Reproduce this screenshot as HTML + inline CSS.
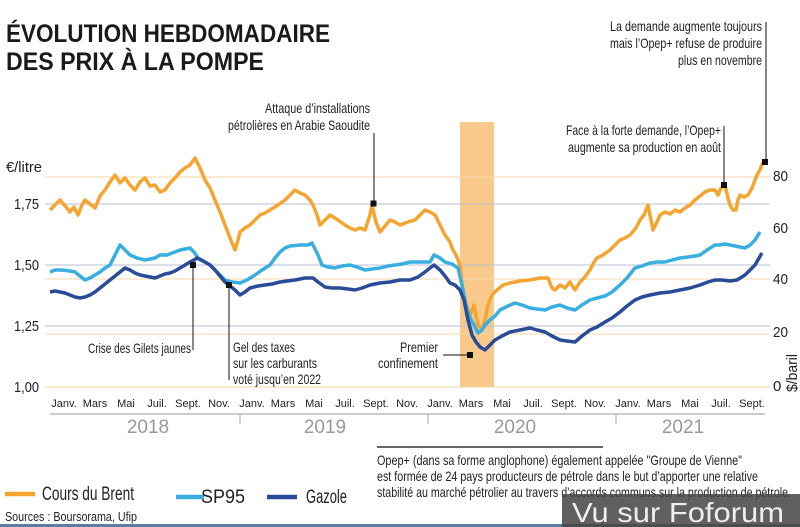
<!DOCTYPE html>
<html><head><meta charset="utf-8"><style>
body{margin:0;background:#fff;}
svg{display:block;font-family:"Liberation Sans",sans-serif;}
.t{font-family:"Liberation Sans",sans-serif;fill:#222;}
</style></head><body>
<svg width="800" height="527" viewBox="0 0 800 527">
<rect width="800" height="527" fill="#fff"/>
<text x="6" y="42" font-size="25" font-weight="bold" fill="#1a1a1a" textLength="324" lengthAdjust="spacingAndGlyphs">ÉVOLUTION HEBDOMADAIRE</text>
<text x="6" y="70" font-size="25" font-weight="bold" fill="#1a1a1a" textLength="258" lengthAdjust="spacingAndGlyphs">DES PRIX À LA POMPE</text>
<rect x="460" y="122" width="34" height="265" fill="#f9c98c"/>
<g stroke-width="1">
<line x1="45" x2="770" y1="177" y2="177" stroke="#f6d9a8"/>
<line x1="45" x2="770" y1="279" y2="279" stroke="#f6d9a8"/>
<line x1="45" x2="770" y1="334" y2="334" stroke="#f6d9a8"/>
<line x1="45" x2="770" y1="204" y2="204" stroke="#b8bfd0"/>
<line x1="45" x2="770" y1="265" y2="265" stroke="#b8bfd0"/>
<line x1="45" x2="770" y1="326" y2="326" stroke="#b8bfd0"/>
<line x1="45" x2="770" y1="387" y2="387" stroke="#f2d9a0"/>
</g>
<g class="t" font-size="15">
<text x="6" y="172" textLength="36" lengthAdjust="spacingAndGlyphs">€/litre</text>
<text x="14" y="209" textLength="25" lengthAdjust="spacingAndGlyphs">1,75</text>
<text x="14" y="270" textLength="25" lengthAdjust="spacingAndGlyphs">1,50</text>
<text x="14" y="331" textLength="25" lengthAdjust="spacingAndGlyphs">1,25</text>
<text x="14" y="392" textLength="25" lengthAdjust="spacingAndGlyphs">1,00</text>
<text x="773" y="181" textLength="15" lengthAdjust="spacingAndGlyphs">80</text>
<text x="773" y="233" textLength="15" lengthAdjust="spacingAndGlyphs">60</text>
<text x="773" y="284" textLength="15" lengthAdjust="spacingAndGlyphs">40</text>
<text x="773" y="337" textLength="15" lengthAdjust="spacingAndGlyphs">20</text>
<text x="773" y="391">0</text>
<text transform="translate(797,392) rotate(-90)" textLength="38" lengthAdjust="spacingAndGlyphs">$/baril</text>
</g>
<g fill="none" stroke-width="3.5" stroke-linejoin="round">
<polyline stroke="#f4a530" points="50,210 55,205 60,200 66,207 70,212 74,207 78,215 82,205 85,200 90,204 95,208 100,196 105,190 110,182 115,175 120,183 125,178 130,185 135,190 140,182 145,178 150,186 155,185 160,192 165,190 170,183 175,178 180,172 185,168 190,165 195,158 200,168 205,180 210,188 215,200 220,212 225,225 230,238 235,250 238,240 240,232 245,228 250,225 255,220 260,215 265,213 270,210 278,205 285,200 290,195 295,190 300,193 305,195 310,200 313,205 317,215 320,225 325,220 330,215 338,220 345,225 350,228 355,230 360,228 365,230 370,215 372,205 376,222 380,232 385,226 390,220 395,222 400,225 408,222 415,220 420,215 425,210 430,212 435,215 440,225 445,235 450,242 452,248 456,255 460,265 462,285 465,300 468,310 470,315 474,305 478,325 482,330 485,320 488,305 492,295 497,290 503,285 510,283 520,281 530,280 540,278 548,278 552,288 555,290 560,285 565,288 570,282 575,290 580,282 584,278 590,270 594,262 597,258 603,255 610,250 615,245 620,240 625,238 630,235 636,228 640,220 644,215 648,205 651,220 653,230 657,222 660,215 665,212 670,214 675,210 680,212 685,208 690,205 695,200 700,196 705,192 710,190 715,190 718,195 721,188 725,185 728,198 730,205 733,210 736,210 738,200 740,195 744,197 748,195 752,188 757,175 760,170 763,162"/>
<polyline stroke="#39aee0" points="50,272 55,270 62,270 70,271 75,272 80,276 85,280 90,278 95,275 100,272 105,268 110,265 115,255 120,245 125,250 130,255 137,258 145,260 150,259 155,258 160,255 167,255 175,252 180,250 185,249 190,248 194,252 198,258 205,262 210,265 215,270 220,275 225,280 232,282 240,283 247,280 255,275 262,270 270,265 275,258 280,252 285,248 290,246 300,245 308,245 312,243 318,255 322,265 328,267 335,268 342,266 350,265 357,267 365,270 372,269 380,268 388,266 395,265 402,264 410,262 420,262 430,262 434,255 440,258 445,262 452,264 458,268 462,285 466,305 470,318 474,325 478,333 482,330 485,325 490,320 495,316 500,310 508,306 515,303 522,305 530,308 537,309 545,310 552,307 560,305 567,308 575,310 582,305 590,300 597,298 605,296 612,292 620,285 627,278 635,268 642,266 650,263 657,262 665,262 672,260 680,258 688,257 695,256 700,255 707,250 715,245 720,245 725,244 730,245 735,246 740,247 745,248 750,245 755,240 760,232"/>
<polyline stroke="#2a4b97" points="50,292 55,291 60,292 65,293 70,295 75,297 80,298 85,297 90,295 95,292 100,288 105,284 110,280 115,276 120,272 125,268 130,270 135,273 140,275 145,276 150,277 155,278 160,276 165,274 170,273 175,271 180,268 185,265 190,262 194,260 197,258 203,261 210,265 215,270 220,276 225,282 230,286 235,290 240,295 245,292 250,288 258,286 265,285 272,284 280,282 287,281 295,280 300,279 305,278 310,278 313,278 318,282 325,287 332,288 340,288 348,289 355,290 362,288 370,285 380,283 390,282 400,280 410,280 418,277 425,272 430,268 434,265 440,270 445,276 450,283 455,285 460,290 464,300 468,320 472,335 476,342 480,347 485,350 490,345 495,340 502,336 510,332 520,330 530,328 537,330 545,332 552,336 560,340 567,341 575,342 582,336 590,330 597,327 605,322 612,318 620,312 627,306 635,300 642,297 650,295 660,293 670,292 680,290 690,288 700,285 708,282 715,280 722,280 730,281 737,280 745,275 750,270 755,265 762,253"/>
</g>
<g stroke="#111" stroke-width="1">
<line x1="374" y1="133" x2="374" y2="204"/>
<line x1="193" y1="265" x2="193" y2="350"/>
<line x1="229" y1="285" x2="229" y2="380"/>
<line x1="443" y1="355" x2="470" y2="355"/>
<line x1="724" y1="126" x2="724" y2="185"/>
<line x1="766" y1="22" x2="766" y2="162"/>
</g>
<g fill="#111">
<rect x="370.5" y="200.5" width="6" height="6"/>
<rect x="190" y="262" width="6" height="6"/>
<rect x="226" y="282" width="6" height="6"/>
<rect x="467" y="352" width="6" height="6"/>
<rect x="721" y="182" width="6" height="6"/>
<rect x="762" y="159" width="6" height="6"/>
</g>
<g class="t" font-size="14" text-anchor="end">
<text x="370" y="113" textLength="105" lengthAdjust="spacingAndGlyphs">Attaque d’installations</text>
<text x="370" y="130" textLength="142" lengthAdjust="spacingAndGlyphs">pétrolières en Arabie Saoudite</text>
<text x="191" y="353" textLength="103" lengthAdjust="spacingAndGlyphs">Crise des Gilets jaunes</text>
<text x="438" y="352" textLength="38" lengthAdjust="spacingAndGlyphs">Premier</text>
<text x="438" y="368" textLength="60" lengthAdjust="spacingAndGlyphs">confinement</text>
<text x="721" y="135" textLength="155" lengthAdjust="spacingAndGlyphs">Face à la forte demande, l’Opep+</text>
<text x="721" y="152" textLength="153" lengthAdjust="spacingAndGlyphs">augmente sa production en août</text>
<text x="762" y="31" textLength="152" lengthAdjust="spacingAndGlyphs">La demande augmente toujours</text>
<text x="762" y="48" textLength="152" lengthAdjust="spacingAndGlyphs">mais l’Opep+ refuse de produire</text>
<text x="762" y="65" textLength="84" lengthAdjust="spacingAndGlyphs">plus en novembre</text>
</g>
<g class="t" font-size="14">
<text x="233" y="352" textLength="62" lengthAdjust="spacingAndGlyphs">Gel des taxes</text>
<text x="233" y="368" textLength="84" lengthAdjust="spacingAndGlyphs">sur les carburants</text>
<text x="233" y="384" textLength="88" lengthAdjust="spacingAndGlyphs">voté jusqu’en 2022</text>
</g>
<g class="t" font-size="11" text-anchor="middle">
<text x="64" y="407">Janv.</text><text x="95" y="407">Mars</text><text x="126" y="407">Mai</text><text x="157" y="407">Juil.</text><text x="188" y="407">Sept.</text><text x="219" y="407">Nov.</text>
<text x="252" y="407">Janv.</text><text x="283" y="407">Mars</text><text x="314" y="407">Mai</text><text x="345" y="407">Juil.</text><text x="376" y="407">Sept.</text><text x="407" y="407">Nov.</text>
<text x="440" y="407">Janv.</text><text x="471" y="407">Mars</text><text x="502" y="407">Mai</text><text x="533" y="407">Juil.</text><text x="564" y="407">Sept.</text><text x="595" y="407">Nov.</text>
<text x="628" y="407">Janv.</text><text x="659" y="407">Mars</text><text x="690" y="407">Mai</text><text x="721" y="407">Juil.</text><text x="752" y="407">Sept.</text>
</g>
<line x1="50" x2="765" y1="414" y2="414" stroke="#ccc" stroke-width="2"/>
<g stroke="#aaa"><line x1="240" x2="240" y1="414" y2="424"/><line x1="428" x2="428" y1="414" y2="424"/><line x1="616" x2="616" y1="414" y2="424"/></g>
<g font-size="19" fill="#999" text-anchor="middle" font-family="Liberation Sans,sans-serif">
<text x="148" y="433">2018</text><text x="325" y="433">2019</text><text x="515" y="433">2020</text><text x="683" y="433">2021</text>
</g>
<line x1="377" x2="603" y1="447" y2="447" stroke="#666" stroke-width="2"/>
<g class="t" font-size="14">
<text x="377" y="465" textLength="365" lengthAdjust="spacingAndGlyphs">Opep+ (dans sa forme anglophone) également appelée "Groupe de Vienne"</text>
<text x="377" y="481" textLength="381" lengthAdjust="spacingAndGlyphs">est formée de 24 pays producteurs de pétrole dans le but d’apporter une relative</text>
<text x="377" y="497" textLength="414" lengthAdjust="spacingAndGlyphs">stabilité au marché pétrolier au travers d’accords communs sur la production de pétrole.</text>
</g>
<g stroke-width="4.5">
<line x1="5" x2="35" y1="494" y2="494" stroke="#f4a530"/>
<line x1="176" x2="204" y1="497" y2="497" stroke="#39aee0"/>
<line x1="267" x2="297" y1="497" y2="497" stroke="#2a4b97"/>
</g>
<g class="t" font-size="19">
<text x="42" y="500" textLength="92" lengthAdjust="spacingAndGlyphs">Cours du Brent</text>
<text x="201" y="503" textLength="44" lengthAdjust="spacingAndGlyphs">SP95</text>
<text x="306" y="503" textLength="41" lengthAdjust="spacingAndGlyphs">Gazole</text>
</g>
<text x="5" y="521" class="t" font-size="13" textLength="132" lengthAdjust="spacingAndGlyphs">Sources : Boursorama, Ufip</text>
<rect x="0" y="524" width="800" height="3" fill="#5a7f9a"/>
<rect x="562" y="494" width="238" height="33" fill="#444" opacity="0.85"/>
<text x="572" y="522" font-size="28" fill="#eee" font-family="Liberation Sans,sans-serif" textLength="212" lengthAdjust="spacingAndGlyphs">Vu sur Foforum</text>
</svg>
</body></html>
